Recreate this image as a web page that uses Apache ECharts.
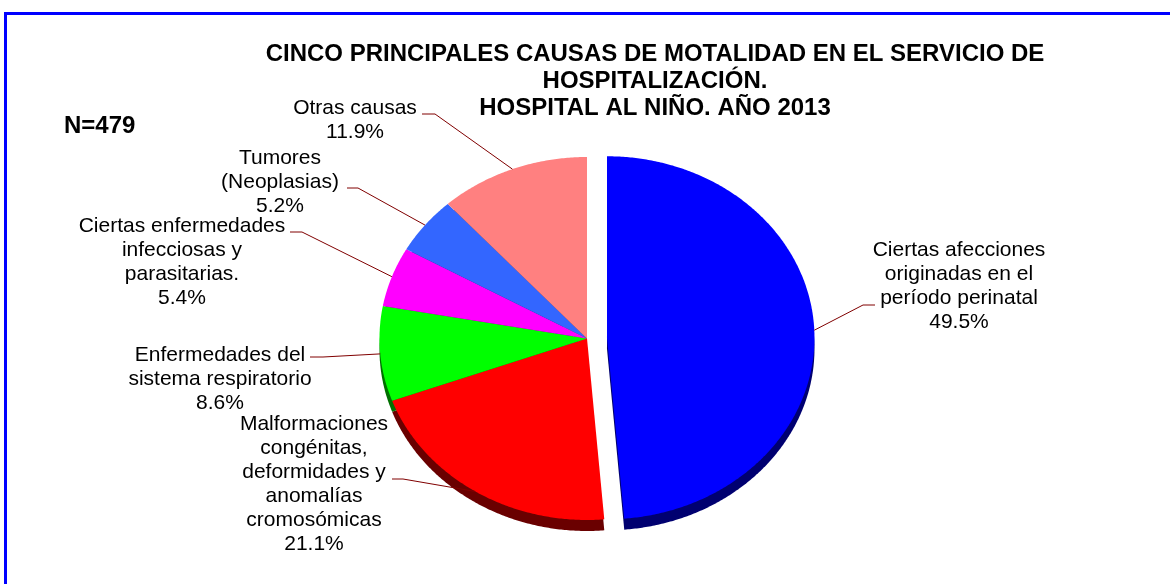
<!DOCTYPE html>
<html>
<head>
<meta charset="utf-8">
<script src="https://cdn.jsdelivr.net/npm/echarts@6/dist/echarts.min.js"></script>
<style>
html,body{margin:0;padding:0;background:#ffffff;}
#chart{width:1170px;height:584px;}
</style>
</head>
<body>
<div id="chart"></div>
<script>
// ---------- data ----------
const categories = [
  'Ciertas afecciones\noriginadas en el\nperíodo perinatal',
  'Malformaciones\ncongénitas,\ndeformidades y\nanomalías\ncromosómicas',
  'Enfermedades del\nsistema respiratorio',
  'Ciertas enfermedades\ninfecciosas y\nparasitarias.',
  'Tumores\n(Neoplasias)',
  'Otras causas'
];
const values = [49.5, 21.1, 8.6, 5.4, 5.2, 11.9];
const titleText = 'CINCO PRINCIPALES CAUSAS DE MOTALIDAD EN EL SERVICIO DE\nHOSPITALIZACIÓN.\nHOSPITAL AL NIÑO. AÑO 2013';
const sampleText = 'N=479';

// ---------- styles / layout ----------
const topColors  = ['#0000FF', '#FF0000', '#00FF00', '#FF00FF', '#3366FF', '#FF8080'];
const sideColors = ['#000070', '#6a0000', '#007000', '#700070', '#1a3380', '#804040'];
const labelPos = [
  {x: 959, y: 286, elbow: [863, 305], end: [875, 305]},
  {x: 314, y: 484, elbow: [403, 479], end: [392, 479]},
  {x: 220, y: 379, elbow: [323, 357], end: [310, 357]},
  {x: 182, y: 262, elbow: [302, 232], end: [290, 232]},
  {x: 280, y: 182, elbow: [358, 188], end: [347, 188]},
  {x: 355, y: 120, elbow: [435, 114], end: [422, 114]}
];
const PIE = {cx: 587, cy: 338.5, rx: 207.5, ry: 181.5, depth: 11, explode: 20};
const FONT = '"Liberation Sans", Arial, sans-serif';

// ---------- geometry derived from data ----------
const total = values.reduce((a, b) => a + b, 0);
const starts = [];
let acc = 0;
values.forEach(v => { starts.push(acc / total * 360); acc += v; });
const ends = values.map((v, i) => starts[i] + v / total * 360);

function offsetFor(i) {
  if (i !== 0) return [0, 0];
  const mid = (starts[i] + ends[i]) / 2 * Math.PI / 180;
  return [PIE.explode * Math.sin(mid), -PIE.explode * Math.cos(mid) * PIE.ry / PIE.rx];
}
function ellPt(a, ox, oy) {
  const r = a * Math.PI / 180;
  return [PIE.cx + ox + PIE.rx * Math.sin(r), PIE.cy + oy - PIE.ry * Math.cos(r)];
}
function sectorPoints(a0, a1, ox, oy) {
  const pts = [[PIE.cx + ox, PIE.cy + oy]];
  const n = Math.max(2, Math.ceil((a1 - a0) / 0.5));
  for (let k = 0; k <= n; k++) pts.push(ellPt(a0 + (a1 - a0) * k / n, ox, oy));
  return pts;
}

function renderSide(params, api) {
  const i = params.dataIndex;
  const o = offsetFor(i);
  return {
    type: 'polygon',
    shape: {points: sectorPoints(starts[i], ends[i], o[0], o[1] + PIE.depth)},
    style: {fill: sideColors[i], stroke: null}
  };
}
function renderTop(params, api) {
  const i = params.dataIndex;
  const o = offsetFor(i);
  return {
    type: 'polygon',
    shape: {points: sectorPoints(starts[i], ends[i], o[0], o[1])},
    style: {fill: topColors[i], stroke: null}
  };
}
function renderLabel(params, api) {
  const i = params.dataIndex;
  const o = offsetFor(i);
  const mid = (starts[i] + ends[i]) / 2;
  const edge = ellPt(mid, o[0], o[1]);
  const L = labelPos[i];
  const pct = api.value(0).toFixed(1) + '%';
  return {
    type: 'group',
    children: [
      {
        type: 'polyline',
        shape: {points: [edge, L.elbow, L.end]},
        style: {stroke: '#800000', lineWidth: 1, fill: null}
      },
      {
        type: 'text',
        x: L.x, y: L.y,
        style: {
          text: categories[i] + '\n' + pct,
          fill: '#000000',
          fontSize: 21,
          fontFamily: FONT,
          lineHeight: 24,
          align: 'center',
          verticalAlign: 'middle'
        }
      }
    ]
  };
}

const chart = echarts.init(document.getElementById('chart'));
chart.setOption({
  backgroundColor: '#ffffff',
  animation: false,
  title: [
    {
      text: titleText,
      left: 655,
      textAlign: 'center',
      top: 41,
      padding: 0,
      textStyle: {fontFamily: FONT, fontWeight: 'bold', fontSize: 24, lineHeight: 27, color: '#000000'}
    },
    {
      text: sampleText,
      left: 64,
      top: 113,
      padding: 0,
      textStyle: {fontFamily: FONT, fontWeight: 'bold', fontSize: 24, lineHeight: 27, color: '#000000'}
    }
  ],
  graphic: [
    {
      type: 'rect',
      shape: {x: 5.5, y: 13.5, width: 1200, height: 620},
      style: {fill: null, stroke: '#0000FF', lineWidth: 3},
      silent: true,
      z: 0
    }
  ],
  series: [
    {type: 'custom', name: 'side', coordinateSystem: 'none', data: values, renderItem: renderSide, z: 1, silent: true},
    {type: 'custom', name: 'top', coordinateSystem: 'none', data: values, renderItem: renderTop, z: 2, silent: true},
    {type: 'custom', name: 'labels', coordinateSystem: 'none', data: values, renderItem: renderLabel, z: 3, silent: true}
  ]
});
</script>
</body>
</html>
